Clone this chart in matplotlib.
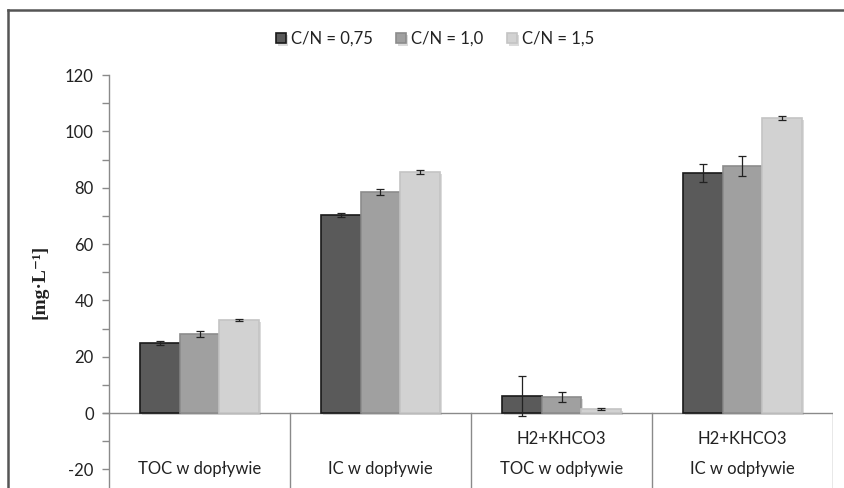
import matplotlib
matplotlib.use("Agg")
import matplotlib.pyplot as plt
import numpy as np
from matplotlib import patheffects as pe
from matplotlib.lines import Line2D

# ---- data ----
categories = ["TOC w dopływie", "IC w dopływie", "TOC w odpływie", "IC w odpływie"]
sub_labels = ["", "", "H2+KHCO3", "H2+KHCO3"]
series_names = ["C/N = 0,75", "C/N = 1,0", "C/N = 1,5"]
vals_075 = [24.8, 70.3, 6.0, 85.2]
vals_10 = [28.0, 78.4, 5.7, 87.7]
vals_15 = [33.0, 85.5, 1.5, 104.8]
err_075 = [0.7, 0.7, 7.0, 3.2]
err_10 = [1.1, 1.1, 1.8, 3.5]
err_15 = [0.4, 0.6, 0.4, 0.7]
yticks = [-20, 0, 20, 40, 60, 80, 100, 120]

series_vals = [vals_075, vals_10, vals_15]
series_errs = [err_075, err_10, err_15]
face_colors = ["#5a5a5a", "#a0a0a0", "#d2d2d2"]
edge_colors = ["#1a1a1a", "#8c8c8c", "#c4c4c4"]

plt.rcParams['font.family'] = ['Lato', 'DejaVu Sans']
plt.rcParams['axes.unicode_minus'] = False

W, H = 845, 488
fig = plt.figure(figsize=(W / 100, H / 100), dpi=100)

# outer chart border (Excel chart area): only top and left edges are visible
top_y = 1 - 10 / H
left_x = 8 / W
fig.add_artist(Line2D([left_x, 1.0], [top_y, top_y], transform=fig.transFigure,
                      color="#555555", linewidth=1.8, solid_capstyle="projecting"))
fig.add_artist(Line2D([left_x, left_x], [0.0, top_y], transform=fig.transFigure,
                      color="#555555", linewidth=1.8, solid_capstyle="projecting"))

ax_left, ax_right = 109 / W, 833 / W
ax_top_px, ax_bot_px = 75, 488
ax = fig.add_axes([ax_left, 1 - ax_bot_px / H, ax_right - ax_left, (ax_bot_px - ax_top_px) / H])

ymin = -(488 - 413) / 2.817
ax.set_ylim(ymin, 120)
ax.set_xlim(0, len(categories))

x = np.arange(len(categories)) + 0.5
bw = 0.22
offsets = [-bw, 0, bw]
shadow = [pe.SimplePatchShadow(offset=(1.5, -1.5), shadow_rgbFace="#999999", alpha=0.35), pe.Normal()]
for i in range(3):
    bars = ax.bar(x + offsets[i], series_vals[i], width=bw, color=face_colors[i],
                  edgecolor=edge_colors[i], linewidth=1.2, label=series_names[i], zorder=3)
    for b in bars:
        b.set_path_effects(shadow)
    ax.errorbar(x + offsets[i], series_vals[i], yerr=series_errs[i], fmt="none",
                ecolor="#222222", elinewidth=0.9, capsize=3.2, capthick=0.9, zorder=4)

# spines / axes
for s in ["top", "right", "bottom"]:
    ax.spines[s].set_visible(False)
ax.spines["left"].set_color("#8a8a8a")
ax.spines["left"].set_linewidth(1.0)
ax.set_yticks(yticks)
ax.set_yticks(np.arange(-20, 121, 10), minor=True)
ax.tick_params(axis="y", which="both", direction="out", length=5, width=1.0, color="#8a8a8a",
               labelsize=12, labelcolor="#222222", pad=6)
ax.set_xticks([])

# horizontal axis at zero and category separators
ax.axhline(0, color="#8a8a8a", linewidth=1.0, zorder=2)
ax.plot([-0.035, 0], [0, 0], color="#8a8a8a", linewidth=1.0, clip_on=False)
for k in range(1, len(categories) + 1):
    ax.plot([k, k], [ymin, 0], color="#8a8a8a", linewidth=1.0, zorder=2)

# category labels
for xi, cat, sub in zip(x, categories, sub_labels):
    ax.text(xi, -20, cat, ha="center", va="center", fontsize=12, color="#222222")
    if sub:
        ax.text(xi, -9.2, sub, ha="center", va="center", fontsize=12, color="#222222")

ax.set_ylabel("[mg·L⁻¹]", fontsize=14, fontweight="bold",
              family=["Liberation Serif", "DejaVu Serif"], color="#222222", labelpad=12)

leg = fig.legend(loc="center", bbox_to_anchor=(435 / W, 1 - 39 / H), ncol=3, frameon=False,
                 fontsize=12, handlelength=0.6, handleheight=0.6, handletextpad=0.3,
                 columnspacing=1.4)
for t in leg.get_texts():
    t.set_color("#222222")

fig.savefig("out.png", dpi=100)
